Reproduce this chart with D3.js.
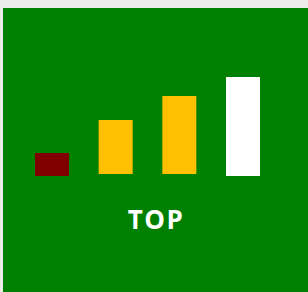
<!DOCTYPE html>
<html>
<head>
<meta charset="utf-8">
<script src="https://cdn.jsdelivr.net/npm/d3@7"></script>
<style>
  html, body { margin: 0; padding: 0; background: #ecece9; }
  svg { display: block; }
</style>
</head>
<body>
<div id="chart"></div>
<script>
// chart values
const categories = ["1", "2", "3", "4"];
const lows = [0, 2, 2, 0];
const highs = [23, 56, 80, 99];
const colors = ["#800000", "#ffc000", "#ffc000", "#ffffff"];
const title = "TOP";

const width = 308, height = 292;

const svg = d3.select("#chart")
	.append("svg")
	.attr("width", width)
	.attr("height", height);

// green panel
svg.append("rect")
	.attr("x", 3)
	.attr("y", 8)
	.attr("width", width - 3)
	.attr("height", height - 8)
	.style("fill", "#008000");

const x = d3.scaleBand()
	.domain(categories)
	.range([35, 260])
	.paddingInner(0.466)
	.paddingOuter(0);

const y = d3.scaleLinear()
	.domain([0, 100])
	.range([176, 76]);

svg.selectAll("rect.bar")
	.data(categories)
	.join("rect")
	.attr("class", "bar")
	.attr("x", function (d) { return x(d) })
	.attr("y", function (d, i) { return y(highs[i]) })
	.attr("width", x.bandwidth())
	.attr("height", function (d, i) { return y(lows[i]) - y(highs[i]) })
	.style("fill", function (d, i) { return colors[i] });

svg.append("text")
	.attr("x", 156)
	.attr("y", 229)
	.attr("text-anchor", "middle")
	.attr("font-family", "'Open Sans', sans-serif")
	.attr("font-weight", "bold")
	.attr("font-size", "26px")
	.attr("letter-spacing", "1.5px")
	.attr("fill", "white")
	.text(title);
</script>
</body>
</html>
